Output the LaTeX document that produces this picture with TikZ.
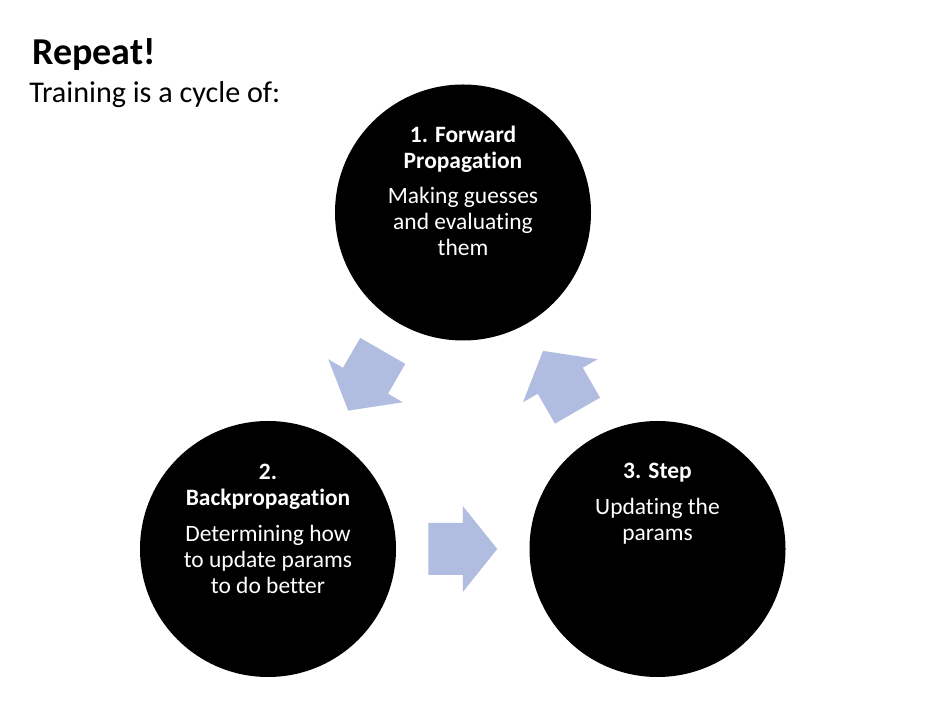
\documentclass[tikz,border=0pt]{standalone}
\usepackage{fontspec}
\setmainfont{Carlito}[Ligatures=NoCommon]
\usetikzlibrary{calc}
\definecolor{arrowblue}{RGB}{176,189,224}
\tikzset{
  stage/.style={circle, fill=black, inner sep=0pt, minimum size=192pt},
  stagetext/.style={text=white, align=center, anchor=base, inner sep=0pt,
    font=\fontsize{17.6}{19.5}\selectfont},
  flow/.style={fill=arrowblue},
}
\begin{document}
\begin{tikzpicture}[x=0.75pt, y=0.75pt]
\fill[white] (0,0) rectangle (931,710);
\node[anchor=base west, inner sep=0pt, font=\fontsize{28.5}{32}\selectfont\bfseries] (title) at (32,645) {Repeat!};
\node[anchor=base west, inner sep=0pt, font=\fontsize{22.6}{24}\selectfont] (intro) at (29,607) {Training is a cycle of:};
% the three stages
\node[stage] (fwd)  at (463,497.5) {};
\node[stage] (back) at (268,161)   {};
\node[stage] (upd)  at (657.5,161) {};
\node[stagetext] (fwdtext)  at ($(fwd)+(0,-43.5)$) {\textbf{1. Forward}\\\textbf{Propagation}\\[7.3pt]Making guesses\\and evaluating\\them};
\node[stagetext] (backtext) at ($(back)+(0,-44.3)$) {\textbf{2.}\\\textbf{Backpropagation}\\[7.3pt]Determining how\\to update params\\to do better};
\node[stagetext] (updtext)  at ($(upd)+(0,8.3)$) {\textbf{3. Step}\\[7.3pt]Updating the\\params};
% arrows between the stages
\foreach \a/\b/\ang in {fwd/back/-120, back/upd/0, upd/fwd/120}
  \fill[flow, shift={($(\a)!.5!(\b)$)}, rotate=\ang]
    (-34.5,-26) -- (0,-26) -- (0,-43) -- (34.5,0) -- (0,43) -- (0,26) -- (-34.5,26) -- cycle;
\end{tikzpicture}
\end{document}
